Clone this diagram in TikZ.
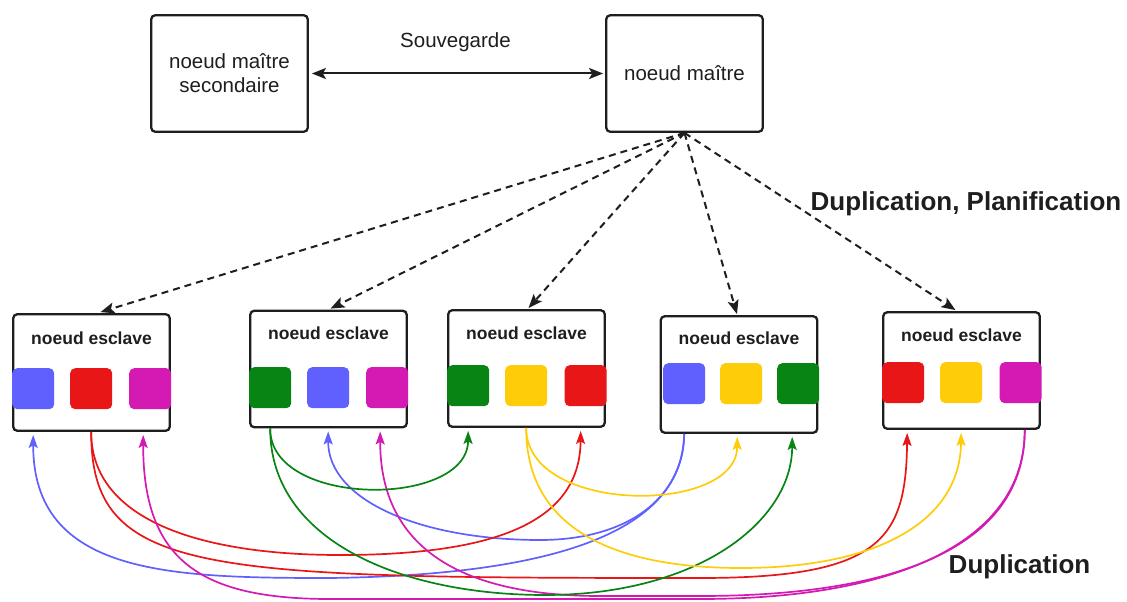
\documentclass[tikz,border=0pt]{standalone}
\usepackage{fontspec}
\setmainfont{Liberation Sans}
\usetikzlibrary{arrows.meta,calc}

\definecolor{cblue}{RGB}{96,96,255}
\definecolor{cred}{RGB}{232,22,22}
\definecolor{cmag}{RGB}{212,26,178}
\definecolor{cgreen}{RGB}{8,132,20}
\definecolor{cyellow}{RGB}{255,204,10}
\definecolor{ink}{RGB}{30,30,30}

\begin{document}
\begin{tikzpicture}[x=1pt,y=-1pt,
  box/.style={draw=ink, line width=2.3pt, rounded corners=4pt,
    minimum width=156.5pt, minimum height=116.5pt, inner sep=0pt,
    align=center, text=ink, font=\fontsize{20.5}{24}\selectfont},
  title/.style={text=ink, inner sep=0pt, font=\bfseries\fontsize{17.5}{20}\selectfont},
  sq/.style={rounded corners=5pt, minimum width=42pt, minimum height=41pt,
    inner sep=0pt, anchor=north west},
  link/.style={line width=1.7pt, shorten >=3pt,
    -{Stealth[length=13pt,width=9pt,inset=2.5pt]}},
  ctl/.style={draw=ink, dash pattern=on 7pt off 5pt, line width=2pt,
    -{Stealth[length=14pt,width=11pt,inset=3pt]}},
  save/.style={draw=ink, line width=2pt,
    {Stealth[length=14pt,width=11pt,inset=3pt]}-{Stealth[length=14pt,width=11pt,inset=3pt]}},
  big/.style={text=ink, inner sep=0pt, font=\bfseries\fontsize{26}{30}\selectfont}
]
\useasboundingbox (0,0) rectangle (1127,602);

% master nodes
\node[box] (sec) at (229.5,73.5) {noeud maître\\secondaire};
\node[box] (mst) at (684.5,73.5) {noeud maître};
\node[text=ink, inner sep=0pt, font=\fontsize{20.5}{24}\selectfont] (sv) at (455.5,42) {Souvegarde};
\draw[save, shorten <=3pt, shorten >=2pt] (sec.east) -- (mst.west);

% slave nodes
\node[box] (s1) at (91.5,372.5) {};
\node[box] (s2) at (328.5,369) {};
\node[box] (s3) at (526.5,368.5) {};
\node[box] (s4) at (739,374.5) {};
\node[box] (s5) at (961.5,370.5) {};

\node[title] (t1) at (91.5,338) {noeud esclave};
\node[title] (t2) at (328.5,333) {noeud esclave};
\node[title] (t3) at (526.5,333) {noeud esclave};
\node[title] (t4) at (739,338) {noeud esclave};
\node[title] (t5) at (961.5,335) {noeud esclave};

% data blocks held by each slave
\node[sq, fill=cblue]   (s1a) at (12,368) {};
\node[sq, fill=cred]    (s1b) at (70,368) {};
\node[sq, fill=cmag]    (s1c) at (129,368) {};
\node[sq, fill=cgreen]  (s2a) at (249,367) {};
\node[sq, fill=cblue]   (s2b) at (307,367) {};
\node[sq, fill=cmag]    (s2c) at (366,367) {};
\node[sq, fill=cgreen]  (s3a) at (447,365) {};
\node[sq, fill=cyellow] (s3b) at (505,365) {};
\node[sq, fill=cred]    (s3c) at (564.5,365) {};
\node[sq, fill=cblue]   (s4a) at (663,363) {};
\node[sq, fill=cyellow] (s4b) at (720,363) {};
\node[sq, fill=cgreen]  (s4c) at (777,363) {};
\node[sq, fill=cred]    (s5a) at (882,362) {};
\node[sq, fill=cyellow] (s5b) at (940,362) {};
\node[sq, fill=cmag]    (s5c) at (999.5,362) {};

% control links from the master
\draw[ctl] (mst.south) -- ([xshift=9pt,yshift=1pt]s1.north);
\draw[ctl] (mst.south) -- ([xshift=2pt,yshift=1pt]s2.north);
\draw[ctl] (mst.south) -- ([xshift=2pt,yshift=1pt]s3.north);
\draw[ctl] (mst.south) -- ([xshift=-2pt,yshift=1pt]s4.north);
\draw[ctl] (mst.south) -- ([xshift=-6pt,yshift=1pt]s5.north);
\node[big] (lp) at (966,204) {Duplication, Planification};

% ports under the blocks
\coordinate (b4out) at (s4a |- s4.south);
\coordinate (b1in)  at (s1a |- s1.south);
\coordinate (b2in)  at (s2b |- s2.south);
\coordinate (r1out) at (s1b |- s1.south);
\coordinate (r3in)  at ($(s3c |- s3.south)+(-5,0)$);
\coordinate (r5in)  at ($(s5a |- s5.south)+(4,0)$);
\coordinate (m5out) at ($(s5c |- s5.south)+(4,0)$);
\coordinate (m1in)  at ($(s1c |- s1.south)+(-7,0)$);
\coordinate (m2in)  at ($(s2c |- s2.south)+(-7,0)$);
\coordinate (g2out) at (s2a |- s2.south);
\coordinate (g3in)  at (s3a |- s3.south);
\coordinate (g4in)  at ($(s4c |- s4.south)+(-6,0)$);
\coordinate (y3out) at (s3b |- s3.south);
\coordinate (y4in)  at ($(s4b |- s4.south)+(-4,0)$);
\coordinate (y5in)  at (s5b |- s5.south);

% replication links
\draw[link, cblue] (b4out) .. controls (683,530) and (560,575) .. (330,578)
  .. controls (170,578) and (33,575) .. (b1in);
\draw[link, cblue] (b4out) .. controls (683,500) and (625,540) .. (540,540)
  .. controls (420,540) and (328,500) .. (b2in);
\draw[link, cred] (r1out) .. controls (91,520) and (200,555) .. (340,555)
  .. controls (500,555) and (580,520) .. (r3in);
\draw[link, cred] (r1out) .. controls (91,575) and (200,578) .. (700,578)
  .. controls (880,578) and (906,540) .. (r5in);
\draw[link, cmag] (m5out) .. controls (1025,540) and (900,599) .. (700,599)
  -- (330,599) .. controls (200,599) and (143,560) .. (m1in);
\draw[link, cmag] (m5out) .. controls (1025,545) and (900,596) .. (700,596)
  -- (600,596) .. controls (450,596) and (380,540) .. (m2in);
\draw[link, cgreen] (g2out) .. controls (269.5,508) and (467.5,508) .. (g3in);
\draw[link, cgreen] (g2out) .. controls (270,540) and (400,595) .. (545,595)
  .. controls (700,595) and (792,520) .. (g4in);
\draw[link, cyellow] (y3out) .. controls (526,515) and (737,515) .. (y4in);
\draw[link, cyellow] (y3out) .. controls (526,520) and (600,568) .. (741,568)
  .. controls (880,568) and (960,520) .. (y5in);
\node[big] (ld) at (1019.5,567) {Duplication};
\end{tikzpicture}
\end{document}
